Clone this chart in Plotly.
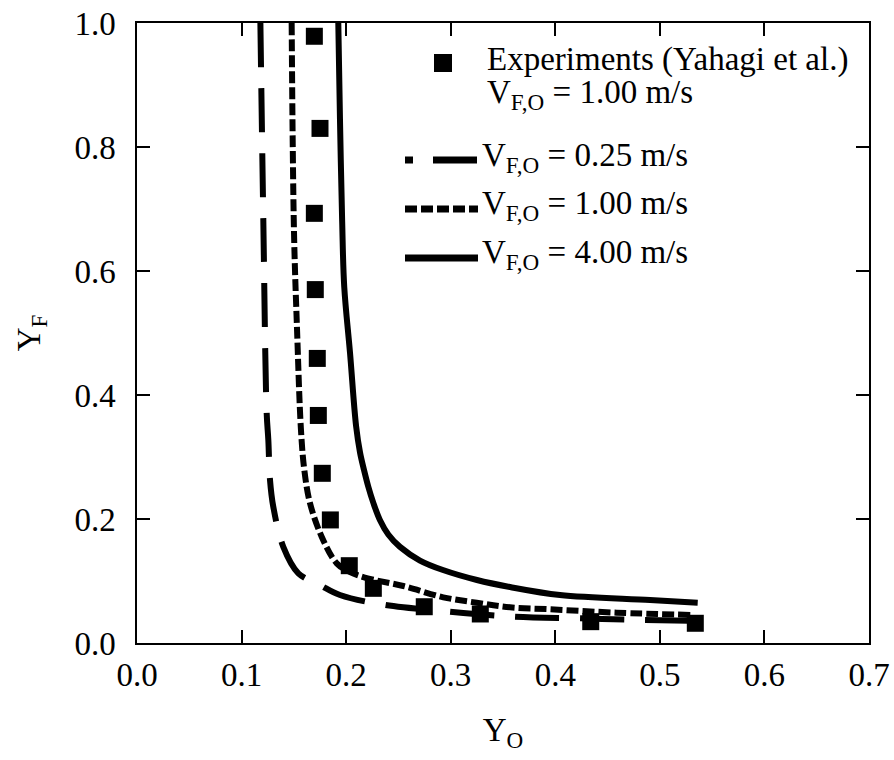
import plotly.graph_objects as go

# Experimental data (Yahagi et al.), V_F,O = 1.00 m/s
exp_yo = [0.1696, 0.1750, 0.1696, 0.1705, 0.1724, 0.1734, 0.1772, 0.1849,
          0.2030, 0.2260, 0.2747, 0.3283, 0.4339, 0.5339]
exp_yf = [0.9786, 0.8300, 0.6930, 0.5700, 0.4590, 0.3670, 0.2737, 0.1985,
          0.1247, 0.0882, 0.0585, 0.0468, 0.0344, 0.0318]

# Computed extinction limits
v025_yo = [0.1180, 0.1208, 0.1240, 0.1256, 0.1272, 0.1303, 0.1399, 0.1543,
           0.1750, 0.1941, 0.2372, 0.2926, 0.3615, 0.4236, 0.4858, 0.5355]
v025_yf = [1.000, 0.682, 0.371, 0.327, 0.263, 0.220, 0.155, 0.1124,
           0.0935, 0.0774, 0.0613, 0.0516, 0.0424, 0.0398, 0.0371, 0.0355]

v100_yo = [0.1479, 0.1501, 0.1530, 0.1568, 0.1600, 0.1654, 0.1766, 0.1910,
           0.2037, 0.2197, 0.2547, 0.2929, 0.3249, 0.3567, 0.3950, 0.4587, 0.5320]
v100_yf = [1.000, 0.666, 0.508, 0.3435, 0.279, 0.2258, 0.1715, 0.1285,
           0.1145, 0.1048, 0.0919, 0.0737, 0.0650, 0.0576, 0.0544, 0.0489, 0.0452]

v400_yo = [0.1925, 0.1941, 0.1962, 0.1982, 0.2037, 0.2095, 0.2133, 0.2171,
           0.2212, 0.2260, 0.2324, 0.2403, 0.2515, 0.2706, 0.2926, 0.3251,
           0.3567, 0.4045, 0.4906, 0.5362]
v400_yf = [1.000, 0.845, 0.680, 0.574, 0.468, 0.350, 0.307, 0.279,
           0.252, 0.226, 0.198, 0.175, 0.155, 0.133, 0.1177, 0.1016,
           0.0903, 0.0774, 0.0694, 0.0650]

legend_labels = [
    "Experiments (Yahagi et al.)",
    "V<sub>F,O</sub> = 1.00 m/s",
    "V<sub>F,O</sub> = 0.25 m/s",
    "V<sub>F,O</sub> = 1.00 m/s",
    "V<sub>F,O</sub> = 4.00 m/s",
]

FONT = "Liberation Serif, Times New Roman, serif"
W, H = 894, 760
ML, MR, MT, MB = 137, 25, 23, 117
PW, PH = W - ML - MR, H - MT - MB

DASH_LONG = "44px,21px"
DASH_SHORT = "12px,4px"


def px(x):
    return (x - ML) / PW


def py(y):
    return (H - MB - y) / PH


fig = go.Figure()

fig.add_trace(go.Scatter(x=v025_yo, y=v025_yf, mode="lines", line_shape="spline",
                         line=dict(color="black", width=6, dash=DASH_LONG),
                         showlegend=False))
fig.add_trace(go.Scatter(x=v100_yo, y=v100_yf, mode="lines", line_shape="spline",
                         line=dict(color="black", width=6, dash=DASH_SHORT),
                         showlegend=False))
fig.add_trace(go.Scatter(x=v400_yo, y=v400_yf, mode="lines", line_shape="spline",
                         line=dict(color="black", width=6),
                         showlegend=False))
fig.add_trace(go.Scatter(x=exp_yo, y=exp_yf, mode="markers",
                         marker=dict(symbol="square", size=17, color="black"),
                         showlegend=False))

# Legend block drawn in paper coordinates
shapes = []
shapes.append(dict(type="rect", xref="paper", yref="paper",
                   x0=px(434), x1=px(452), y0=py(72), y1=py(54),
                   fillcolor="black", line=dict(width=0)))
line_rows = [(160, "8px,20px,44px,21px"), (209, DASH_SHORT), (258, "solid")]
for yy, dash in line_rows:
    shapes.append(dict(type="line", xref="paper", yref="paper",
                       x0=px(405), x1=px(478), y0=py(yy), y1=py(yy),
                       line=dict(color="black", width=7, dash=dash)))

text_rows = [(485, 59), (485, 95), (480, 157), (480, 205), (480, 255)]
annotations = []
for (tx, ty), label in zip(text_rows, legend_labels):
    annotations.append(dict(text=label, xref="paper", yref="paper",
                            x=px(tx), y=py(ty), xanchor="left", yanchor="middle",
                            showarrow=False, font=dict(family=FONT, size=33, color="black")))

axis_common = dict(showgrid=False, zeroline=False, showline=True, linecolor="black",
                   linewidth=1.5, mirror="ticks", ticks="inside", ticklen=13,
                   tickwidth=1.5, tickcolor="black",
                   tickfont=dict(family=FONT, size=33, color="black"))

fig.update_layout(
    width=W, height=H,
    margin=dict(l=ML, r=MR, t=MT, b=MB, autoexpand=False),
    paper_bgcolor="white", plot_bgcolor="white",
    shapes=shapes, annotations=annotations,
    xaxis=dict(range=[0, 0.7], dtick=0.1, tickformat=".1f", ticklabelstandoff=2,
               title=dict(text="Y<sub>O</sub>", standoff=26,
                          font=dict(family=FONT, size=33, color="black")),
               **axis_common),
    yaxis=dict(range=[0, 1.0], dtick=0.2, tickformat=".1f", ticklabelstandoff=13,
               title=dict(text="Y<sub>F</sub>", standoff=24,
                          font=dict(family=FONT, size=33, color="black")),
               **axis_common),
)

fig.write_html("out.html")
